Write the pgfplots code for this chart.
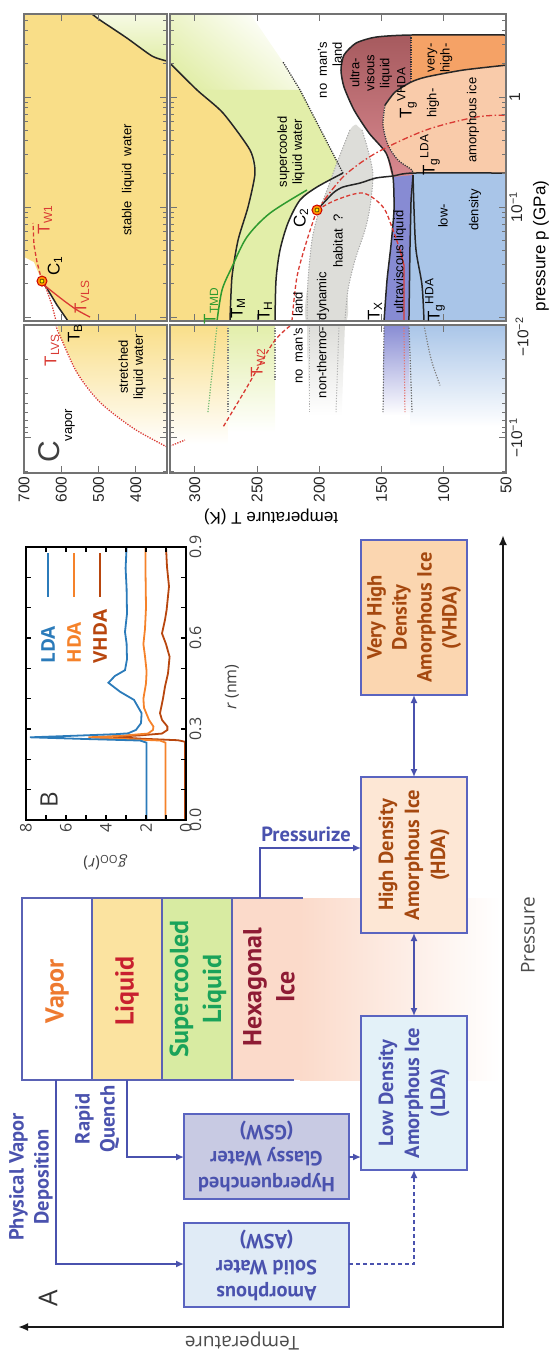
\documentclass[border=0pt]{standalone}
\usepackage{fontspec}
\setmainfont{Liberation Sans}
\newfontfamily\pts{PT Sans}
\newfontfamily\ops{Open Sans}
\usepackage{pgfplots}
\pgfplotsset{compat=1.18}
\usetikzlibrary{arrows.meta}

\definecolor{bandC}{HTML}{5A62B5}
\definecolor{liqC}{HTML}{FBE3A0}
\definecolor{supC}{HTML}{D8EBA2}
\definecolor{hexC}{HTML}{FBDACA}
\definecolor{vapT}{HTML}{EE7A30}
\definecolor{liqT}{HTML}{C8202F}
\definecolor{supT}{HTML}{1AA35A}
\definecolor{hexT}{HTML}{8E1B34}
\definecolor{blueA}{HTML}{4A52AE}
\definecolor{brownA}{HTML}{A5480F}
\definecolor{boxC}{HTML}{5A64C0}
\definecolor{gswC}{HTML}{C8CAE3}
\definecolor{aswC}{HTML}{E0EBF6}
\definecolor{ldaF}{HTML}{E3F1F8}
\definecolor{hdaF}{HTML}{FDE7D5}
\definecolor{vhdaF}{HTML}{FBD6B0}
\definecolor{ldaL}{HTML}{2B7BBA}
\definecolor{hdaL}{HTML}{F5822A}
\definecolor{vhdaL}{HTML}{B8460E}
\definecolor{frameC}{HTML}{737373}
\definecolor{yellC}{HTML}{F9DE88}
\definecolor{grnC}{HTML}{E2EEA9}
\definecolor{mauveD}{HTML}{A65A5E}
\definecolor{mauveL}{HTML}{D98990}
\definecolor{orgC}{HTML}{F5A266}
\definecolor{peachC}{HTML}{F9CBAA}
\definecolor{purpC}{HTML}{878BD3}
\definecolor{lblueC}{HTML}{A9C5E8}
\definecolor{greyC}{HTML}{DDDDD9}
\definecolor{redC}{HTML}{D93A33}
\definecolor{tmdC}{HTML}{2E9A2E}

\pgfplotsset{
  cax/.style={anchor=north west, scale only axis, axis on top, tick align=inside,
    x dir=reverse,
    axis line style={draw=frameC, line width=1.6pt},
    tick style={draw=frameC, line width=1pt},
    major tick length=7pt, minor tick length=4pt,
    tick label style={font=\fontsize{15.5}{15.5}\selectfont, text=black!85},
    xticklabel style={rotate=90, anchor=east},
    yticklabel style={rotate=90, anchor=north},
    yticklabel pos=right},
  blk/.style={black!85, line width=1.5pt},
  dotk/.style={black!80, line width=1.3pt, dash pattern=on 1.2pt off 1.2pt},
}
\newcommand{\lf}{\fontsize{13}{15}\selectfont}
\newcommand{\tf}{\fontsize{17}{17}\selectfont}

\begin{document}
\begin{tikzpicture}
\path[use as bounding box] (0pt,0pt) rectangle (552pt,-1354pt);

% ================= PANEL A =================
\begin{scope}[x=1pt,y=-1pt]
\fill[hexC] (232,898) rectangle (300,1080);
\shade[left color=hexC, right color=white] (300,898) rectangle (500,1080);
\fill[liqC] (92,898) rectangle (162,1080);
\fill[supC] (162,898) rectangle (232,1080);
\draw[bandC, line width=1.2pt] (303,898) -- (22,898) -- (22,1080) -- (294,1080);
\draw[bandC, line width=1.2pt] (92,898) -- (92,1080) (162,898) -- (162,1080) (232,898) -- (232,1080);

\node[rotate=90, text=vapT, font=\pts\bfseries\fontsize{26}{31}\selectfont] at (57,991) {Vapor};
\node[rotate=90, text=liqT, font=\pts\bfseries\fontsize{26}{31}\selectfont] at (127,991) {Liquid};
\node[rotate=90, align=center, text=supT, font=\pts\bfseries\fontsize{26}{33}\selectfont] at (198,989) {Supercooled\\Liquid};
\node[rotate=90, align=center, text=hexT, font=\pts\bfseries\fontsize{26}{33}\selectfont] at (269,987) {Hexagonal\\Ice};

% boxes
\draw[boxC, line width=1.2pt, fill=gswC] (184,1114) rectangle (349,1199);
\draw[boxC, line width=1.2pt, fill=aswC] (184,1223) rectangle (349,1307);
\draw[boxC, line width=1.2pt, fill=ldaF] (361,1016) rectangle (467,1170);
\draw[boxC, line width=1.2pt, fill=hdaF] (361,777) rectangle (467,933);
\draw[boxC, line width=1.2pt, fill=vhdaF] (361,540) rectangle (467,695);

\node[rotate=180, align=center, text=blueA, font=\pts\bfseries\fontsize{20.5}{26}\selectfont] at (266.5,1156.5) {Hyperquenched\\Glassy Water\\(GSW)};
\node[rotate=180, align=center, text=blueA, font=\pts\bfseries\fontsize{20.5}{26}\selectfont] at (266.5,1265) {Amorphous\\Solid Water\\(ASW)};
\node[rotate=90, align=center, text=blueA, font=\pts\bfseries\fontsize{20.5}{26}\selectfont] at (414,1093) {Low Density\\Amorphous Ice\\(LDA)};
\node[rotate=90, align=center, text=brownA, font=\pts\bfseries\fontsize{20.5}{26}\selectfont] at (414,855) {High Density\\Amorphous Ice\\(HDA)};
\node[rotate=90, align=center, text=brownA, font=\pts\bfseries\fontsize{20.5}{25}\selectfont] at (414,617.5) {Very High\\Density\\Amorphous Ice\\(VHDA)};

% arrows
\draw[blueA, line width=1.5pt, -{Latex[length=8pt,width=7pt]}] (56,1080) -- (56,1264) -- (184,1264);
\draw[blueA, line width=1.5pt, -{Latex[length=8pt,width=7pt]}] (127,1080) -- (127,1157) -- (184,1157);
\draw[blueA, line width=1.5pt, -{Latex[length=8pt,width=7pt]}] (260,898) -- (260,848) -- (361,848);
\draw[blueA, line width=1.5pt, -{Latex[length=8pt,width=7pt]}] (349,1157) -- (361,1157);
\draw[blueA, line width=1.5pt, dash pattern=on 4pt off 3pt, -{Latex[length=8pt,width=7pt]}] (349,1264) -- (414,1264) -- (414,1170);
\draw[blueA, line width=1.5pt, {Latex[length=8pt,width=7pt]}-{Latex[length=8pt,width=7pt]}] (414,933) -- (414,1016);
\draw[blueA, line width=1.5pt, {Latex[length=8pt,width=7pt]}-{Latex[length=8pt,width=7pt]}] (414,695) -- (414,777);

\node[rotate=90, align=center, text=blueA, font=\pts\bfseries\fontsize{20.5}{25}\selectfont] at (31,1177) {Physical Vapor\\Deposition};
\node[rotate=90, align=center, text=blueA, font=\pts\bfseries\fontsize{20.5}{25}\selectfont] at (97,1119) {Rapid\\Quench};
\node[text=blueA, font=\pts\bfseries\fontsize{20.5}{25}\selectfont] at (306,834) {Pressurize};

% T / p axes
\draw[black!90, line width=2pt, {Latex[length=10pt,width=8pt]}-{Latex[length=10pt,width=8pt]}] (18,1327) -- (503,1327) -- (503,535);
\node[rotate=180, text=black!70, font=\ops\fontsize{19}{19}\selectfont] at (242,1341) {Temperature};
\node[rotate=90, text=black!70, font=\ops\fontsize{19}{19}\selectfont] at (528,935) {Pressure};
\node[rotate=90, text=black!80, font=\ops\fontsize{26}{26}\selectfont] at (48,1298) {A};

% panel B legend and labels
\draw[ldaL, line width=2.2pt] (48,553) -- (48,597);
\draw[hdaL, line width=2.2pt] (74,553) -- (74,597);
\draw[vhdaL, line width=2.2pt] (100,553) -- (100,597);
\node[rotate=90, anchor=west, text=ldaL, font=\ops\bfseries\fontsize{19}{19}\selectfont] at (48,667) {LDA};
\node[rotate=90, anchor=west, text=hdaL, font=\ops\bfseries\fontsize{19}{19}\selectfont] at (74,667) {HDA};
\node[rotate=90, anchor=west, text=vhdaL, font=\ops\bfseries\fontsize{19}{19}\selectfont] at (100,667) {VHDA};
\node[rotate=90, text=black!80, font=\ops\fontsize{24}{24}\selectfont] at (49,800) {B};
\node[rotate=180, text=black!75, font=\ops\fontsize{16}{16}\selectfont] at (105,862) {\textit{g}\textsubscript{OO}(\textit{r})};
\node[rotate=90, text=black!75, font=\ops\fontsize{16}{16}\selectfont] at (232,687) {\textit{r} (nm)};
\end{scope}

% ================= PANEL B =================
\begin{axis}[at={(26pt,-547pt)}, anchor=north west, scale only axis, width=160pt, height=273pt,
  xmin=0, xmax=8, x dir=reverse, ymin=0, ymax=0.9,
  xtick={0,2,4,6,8}, xticklabels={0,2,4,6,8}, minor xtick={1,3,5,7},
  ytick={0,0.3,0.6,0.9}, yticklabels={0.0,0.3,0.6,0.9}, minor ytick={0.1,0.2,0.4,0.5,0.7,0.8},
  yticklabel pos=right, tick align=inside, major tick length=5pt, minor tick length=5pt,
  axis line style={line width=1.8pt}, tick style={black, line width=1.3pt},
  tick label style={font=\ops\fontsize{16}{16}\selectfont, text=black!75},
  xticklabel style={rotate=90, anchor=east}, yticklabel style={rotate=90, anchor=north},
  axis on top]
\addplot[vhdaL, line width=1.8pt] coordinates {(0.05,0) (0.05,0.258) (0.4,0.263) (2.2,0.268) (3.65,0.274) (2.3,0.279) (1.2,0.285) (0.93,0.297) (0.93,0.308) (1.2,0.33) (1.3,0.352) (1.15,0.40) (1.05,0.44) (0.9,0.483) (0.82,0.538) (1.0,0.58) (1.2,0.615) (1.05,0.66) (0.97,0.692) (0.85,0.77) (0.95,0.835) (1.0,0.9)};
\addplot[hdaL, line width=1.8pt] coordinates {(1.02,0) (1.02,0.255) (1.3,0.262) (3,0.267) (4.88,0.2726) (3.2,0.278) (1.9,0.285) (1.65,0.297) (1.63,0.308) (1.85,0.33) (2.1,0.37) (2.13,0.40) (2.0,0.45) (1.97,0.49) (2.05,0.54) (2.13,0.58) (2.05,0.63) (2.0,0.7) (2.02,0.8) (2.02,0.9)};
\addplot[ldaL, line width=1.8pt] coordinates {(1.97,0) (1.97,0.255) (2.3,0.262) (5,0.267) (7.8,0.2726) (5.5,0.278) (3.5,0.283) (2.9,0.2857) (2.5,0.297) (2.25,0.319) (2.22,0.352) (2.6,0.396) (3.3,0.423) (3.88,0.4525) (3.55,0.475) (3.05,0.494) (2.95,0.53) (2.97,0.582) (3.05,0.62) (2.95,0.68) (2.97,0.764) (3.02,0.83) (2.97,0.9)};
\end{axis}

% ================= PANEL C : Q1 (high T, p>0) =================
\begin{axis}[cax, at={(24pt,-14pt)}, width=143pt, height=307pt,
  xmin=316, xmax=700, ymin=-2.036, ymax=0.755,
  xtick={400,500,600,700}, xticklabels={},
  ytick={-2,-1,0}, yticklabels={},
  minor ytick={-1.699,-1.523,-1.398,-1.301,-1.222,-1.155,-1.097,-1.046,-0.699,-0.523,-0.398,-0.301,-0.222,-0.155,-0.097,-0.046,0.301,0.477,0.602,0.699}]
\addplot[draw=none, fill=yellC] coordinates {(702,0.76) (517.4,0.76) (495.9,0.700) (423.5,0.536) (356.3,0.373) (314,0.327) (314,-2.05) (581.9,-2.05) (611.4,-1.891) (635.6,-1.755) (651.7,-1.673) (673.2,-1.5) (702,-1.45)} -- cycle;
\addplot[draw=none, top color=grnC!30!white, bottom color=grnC] coordinates {(517.4,0.76) (314,0.76) (314,0.327) (356.3,0.373) (423.5,0.536) (495.9,0.700)} -- cycle;
\addplot[blk, smooth, tension=0.4] coordinates {(517.4,0.755) (495.9,0.700) (423.5,0.536) (356.3,0.373) (316,0.327)};
\addplot[blk] coordinates {(651.7,-1.673) (635.6,-1.755) (611.4,-1.891) (581.9,-2.036)};
\addplot[redC, line width=1.3pt, dash pattern=on 4pt off 2.5pt] coordinates {(651.7,-1.673) (665.1,-1.5) (673.2,-1.345) (675.8,-1.145)};
\addplot[redC, line width=1.3pt, smooth] coordinates {(651.7,-1.673) (645.6,-1.709) (595.3,-1.845) (557.7,-1.936) (522.8,-2.0)};
\addplot[redC, line width=1.3pt, dash pattern=on 1.3pt off 1.3pt] coordinates {(651.7,-1.673) (640.9,-1.736) (624.8,-1.891) (614.1,-2.036)};
\addplot[only marks, mark=*, mark size=5pt, mark options={fill=orange!85!yellow, draw=red!80!black, line width=1pt}] coordinates {(651.7,-1.673)};
\addplot[only marks, mark=*, mark size=2pt, mark options={fill=yellow, draw=none}] coordinates {(651.7,-1.673)};
\end{axis}

% ================= Q2 (high T, p<0) =================
\begin{axis}[cax, at={(24pt,-325pt)}, width=143pt, height=148pt,
  xmin=316, xmax=700, ymin=-2, ymax=-0.69, y dir=reverse,
  xtick={400,500,600,700}, xticklabels={400,500,600,700},
  ytick={-1}, yticklabels={},
  minor ytick={-1.699,-1.523,-1.398,-1.301,-1.222,-1.155,-1.097,-1.046,-0.699}]
\addplot[draw=none, top color=yellC, middle color=yellC!45!white, bottom color=white] coordinates {(611.4,-2.01) (314,-2.01) (314,-0.921) (326.8,-0.939) (407.3,-1.088) (495.9,-1.316) (557.7,-1.579) (603.3,-1.904)} -- cycle;
\addplot[redC, line width=1.3pt, dash pattern=on 1.3pt off 1.3pt, smooth] coordinates {(614.1,-2.0) (611.4,-1.965) (603.3,-1.904) (557.7,-1.579) (495.9,-1.316) (407.3,-1.088) (326.8,-0.939) (316,-0.921)};
\end{axis}

% ================= Q3 (low T, p>0) =================
\begin{axis}[cax, at={(170pt,-14pt)}, width=336pt, height=307pt,
  xmin=50, xmax=320, ymin=-2.036, ymax=0.755,
  xtick={50,100,150,200,250,300}, xticklabels={},
  ytick={-2,-1,0}, yticklabels={{},{10\textsuperscript{−1}},{1}},
  minor ytick={-1.699,-1.523,-1.398,-1.301,-1.222,-1.155,-1.097,-1.046,-0.699,-0.523,-0.398,-0.301,-0.222,-0.155,-0.097,-0.046,0.301,0.477,0.602,0.699}]
\addplot[draw=none, fill=yellC] coordinates {(322,0.313) (298.3,0.064) (277.4,-0.145) (255.7,-0.482) (251.7,-0.691) (257.3,-1.0) (265.3,-1.300) (270.2,-1.636) (271.8,-2.05) (322,-2.05)} -- cycle;
\addplot[draw=none, top color=white, bottom color=grnC, shading angle=-40] coordinates {(322,0.76) (255.7,0.76) (229.2,0.318) (215.5,0.064) (298.3,0.064) (322,0.313)} -- cycle;
\addplot[draw=none, fill=grnC] coordinates {(298.3,0.065) (215.5,0.065) (181.0,-0.691) (201.9,-0.818) (215.5,-0.936) (225.2,-1.145) (231.6,-1.391) (234.8,-1.664) (235.6,-2.05) (271.8,-2.05) (270.2,-1.636) (265.3,-1.300) (257.3,-1.0) (251.7,-0.691) (255.7,-0.482) (277.4,-0.145)} -- cycle;
% grey band
\addplot[draw=none, fill=greyC, smooth, tension=0.5] coordinates {(170.5,-0.25) (175.4,-0.300) (185.0,-0.573) (193.8,-0.845) (201.1,-1.073) (205.9,-1.300) (209.1,-1.664) (209.9,-2.05) (179.4,-2.05) (177.0,-1.755) (171.3,-1.482) (163.3,-1.209) (159.3,-1.0) (156.9,-0.709) (160.9,-0.482) (165.7,-0.300)} -- cycle;
% mauve ultraviscous HDL
\addplot[draw=none, top color=mauveD, bottom color=mauveL, smooth, tension=0.4] coordinates {(126.3,0.564) (154.5,0.545) (170.5,0.491) (180.2,0.382) (182.6,0.245) (180.2,0.091) (172.1,-0.118) (160.1,-0.327) (146.4,-0.509) (140.8,-0.727) (124.7,-0.709) (125.5,-0.664) (136.8,-0.573) (144.8,-0.436) (148.8,-0.255) (147.2,-0.073) (139.2,0.045) (126.3,0.136)} -- cycle;
\addplot[draw=none, fill=orgC] coordinates {(126.3,0.564) (48,0.564) (48,0.291) (84.6,0.245) (114.3,0.182) (126.3,0.136)} -- cycle;
\addplot[draw=none, fill=peachC] coordinates {(126.3,0.136) (114.3,0.182) (84.6,0.245) (48,0.291) (48,-0.691) (124.7,-0.691) (125.5,-0.664) (136.8,-0.573) (144.8,-0.436) (148.8,-0.255) (147.2,-0.073) (139.2,0.045)} -- cycle;
\addplot[draw=none, fill=purpC] coordinates {(140.8,-0.727) (140.0,-1.027) (142.4,-1.345) (145.6,-1.664) (148.0,-2.05) (128.0,-2.05) (127.2,-1.391) (126.3,-0.936) (124.7,-0.709)} -- cycle;
\addplot[draw=none, fill=lblueC] coordinates {(124.7,-0.691) (48,-0.691) (48,-2.05) (128.0,-2.05) (127.2,-1.391) (126.3,-0.936) (124.7,-0.709)} -- cycle;
% lines
\addplot[black!35, line width=1pt, dash pattern=on 1.2pt off 1.5pt, smooth] coordinates {(175.4,-0.300) (185.0,-0.573) (193.8,-0.845) (201.1,-1.073) (205.9,-1.300) (209.1,-1.664) (209.9,-2.036)};
\addplot[black!35, line width=1pt, dash pattern=on 1.2pt off 1.5pt, smooth] coordinates {(165.7,-0.300) (160.9,-0.482) (156.9,-0.709) (159.3,-1.0) (163.3,-1.209) (171.3,-1.482) (177.0,-1.755) (179.4,-2.036)};
\addplot[blk, smooth, tension=0.4] coordinates {(320.5,0.313) (298.3,0.064) (277.4,-0.145) (255.7,-0.482) (251.7,-0.691) (257.3,-1.0) (265.3,-1.300) (270.2,-1.636) (271.8,-2.036)};
\addplot[blk, smooth, tension=0.5] coordinates {(181.0,-0.691) (201.9,-0.818) (215.5,-0.936) (225.2,-1.145) (231.6,-1.391) (234.8,-1.664) (235.6,-2.036)};
\addplot[dotk] coordinates {(181.0,-0.691) (215.5,0.064) (229.2,0.318)};
\addplot[tmdC, line width=1.5pt, smooth] coordinates {(209.9,-0.845) (239.6,-1.055) (258.2,-1.273) (270.2,-1.545) (278.2,-1.755) (282.2,-2.036)};
\addplot[blk, smooth, tension=0.4] coordinates {(49,0.564) (126.3,0.564) (154.5,0.545) (170.5,0.491) (180.2,0.382) (182.6,0.245) (180.2,0.091) (172.1,-0.118) (160.1,-0.327) (146.4,-0.509) (140.8,-0.727) (140.0,-1.027) (142.4,-1.345) (145.6,-1.664) (148.0,-2.036)};
\addplot[blk, smooth, tension=0.4] coordinates {(49,0.291) (84.6,0.245) (114.3,0.182) (126.3,0.136) (139.2,0.045) (147.2,-0.073)};
\addplot[dotk] coordinates {(126.3,0.564) (126.3,0.136)};
\addplot[dotk, smooth] coordinates {(147.2,-0.073) (148.8,-0.255) (144.8,-0.436) (136.8,-0.573) (125.5,-0.664) (124.7,-0.709)};
\addplot[blk, smooth] coordinates {(124.7,-0.709) (123.9,-1.027) (122.3,-1.391) (117.5,-1.709) (115.9,-2.036)};
\addplot[blk] coordinates {(124.7,-0.709) (126.3,-0.936) (127.2,-1.391) (128.0,-2.036)};
\addplot[blk, smooth, tension=0.4] coordinates {(201.9,-1.027) (189.0,-0.873) (181.0,-0.818) (167.3,-0.782) (154.5,-0.736) (140.8,-0.718) (124.7,-0.691) (49,-0.691)};
\addplot[redC, line width=1.3pt, dash pattern=on 4pt off 2.5pt, smooth] coordinates {(201.9,-1.027) (186.6,-0.936) (164.9,-0.873) (148.8,-1.0) (140.8,-1.209) (135.2,-1.391)};
\addplot[redC, line width=1.3pt] coordinates {(135.2,-1.391) (132.0,-1.527) (132.0,-2.036)};
\addplot[redC, line width=1.3pt, dash pattern=on 6pt off 2.5pt on 1.5pt off 2.5pt, smooth] coordinates {(201.9,-1.027) (181.0,-0.727) (154.5,-0.509) (114.3,-0.300) (74.1,-0.182) (49,-0.164)};
\addplot[redC, line width=1.3pt, dash pattern=on 4pt off 2.5pt, smooth] coordinates {(201.9,-1.027) (209.9,-1.300) (218.0,-1.636) (222.0,-2.036)};
\addplot[only marks, mark=*, mark size=5pt, mark options={fill=orange!85!yellow, draw=red!80!black, line width=1pt}] coordinates {(201.9,-1.027)};
\addplot[only marks, mark=*, mark size=2pt, mark options={fill=yellow, draw=none}] coordinates {(201.9,-1.027)};
\end{axis}

% ================= Q4 (low T, p<0) =================
\begin{axis}[cax, at={(170pt,-325pt)}, width=336pt, height=148pt,
  xmin=50, xmax=320, ymin=-2, ymax=-0.69, y dir=reverse,
  xtick={50,100,150,200,250,300}, xticklabels={50,100,150,200,250,300},
  ytick={-1}, yticklabels={{−10\textsuperscript{−1}}},
  minor ytick={-1.699,-1.523,-1.398,-1.301,-1.222,-1.155,-1.097,-1.046,-0.699}]
\addplot[draw=none, top color=yellC, middle color=yellC!45!white, bottom color=white] coordinates {(322,-2.01) (273.4,-2.01) (273.4,-0.95) (322,-0.95)} -- cycle;
\addplot[draw=none, top color=grnC, middle color=grnC!45!white, bottom color=white] coordinates {(273.4,-2.01) (235.6,-2.01) (235.6,-1.05) (273.4,-1.05)} -- cycle;
\addplot[draw=none, top color=greyC, bottom color=white] coordinates {(209.9,-2.01) (179.4,-2.01) (182,-1.2) (208.3,-1.2)} -- cycle;
\addplot[draw=none, top color=purpC, middle color=purpC!50!white, bottom color=white] coordinates {(148,-2.01) (128,-2.01) (127,-1.2) (148.8,-1.2)} -- cycle;
\addplot[draw=none, top color=lblueC, middle color=lblueC!60!white, bottom color=white] coordinates {(128,-2.01) (48,-2.01) (48,-1.1) (127,-1.1)} -- cycle;
\addplot[tmdC!70!white, line width=1.2pt, dash pattern=on 1.2pt off 1.5pt] coordinates {(282.2,-2.0) (289.5,-1.228)};
\addplot[black!50, line width=1.2pt, dash pattern=on 1.2pt off 1.5pt] coordinates {(273.4,-2.0) (273.4,-1.228)};
\addplot[black!50, line width=1.2pt, dash pattern=on 1.2pt off 1.5pt] coordinates {(235.6,-2.0) (235.6,-1.5)};
\addplot[black!30, line width=1pt, dash pattern=on 1.2pt off 1.5pt] coordinates {(208.3,-2.0) (208.3,-1.228)};
\addplot[black!30, line width=1pt, dash pattern=on 1.2pt off 1.5pt] coordinates {(184.2,-2.0) (186.6,-1.228)};
\addplot[black!60, line width=1.2pt, dash pattern=on 1.2pt off 1.5pt] coordinates {(148,-2.0) (148.8,-1.228)};
\addplot[redC!70!white, line width=1.2pt, dash pattern=on 1.2pt off 1.5pt] coordinates {(132,-2.0) (131.2,-1.228)};
\addplot[black!60, line width=1.2pt, dash pattern=on 1.2pt off 1.5pt] coordinates {(128,-2.0) (125.5,-1.228)};
\addplot[black!50, line width=1.2pt, dash pattern=on 1.2pt off 1.5pt, smooth] coordinates {(115.9,-2.0) (110.3,-1.702) (103.0,-1.465)};
\addplot[redC, line width=1.3pt, dash pattern=on 4pt off 2.5pt, smooth] coordinates {(223.6,-1.991) (237.2,-1.842) (259.7,-1.421) (277.4,-1.096)};
\addplot[redC, line width=1.3pt, dash pattern=on 1.3pt off 1.3pt] coordinates {(320,-0.93) (317.6,-0.939) (308.0,-0.982)};
\end{axis}

% ================= PANEL C labels =================
\begin{scope}[x=1pt,y=-1pt]
\node[rotate=90, font=\lf] at (128,180) {stable\ \ liquid\ \ water};
\node[rotate=90, align=center, font=\lf] at (291,152) {supercooled\\liquid water};
\node[rotate=90, align=right, font=\lf] at (330,70) {no\ \ man's\\land};
\node[rotate=90, align=center, font=\lf] at (371,73) {ultra-\\visous\\liquid};
\node[rotate=90, font=\tf] at (407,93) {T\textsubscript{g}\textsuperscript{VHDA}};
\node[rotate=90, align=center, font=\lf] at (440,58) {very-\\high-};
\node[rotate=90, font=\lf] at (433,103) {high-};
\node[rotate=90, font=\lf] at (473,120) {amorphous ice};
\node[rotate=90, font=\tf] at (430,155) {T\textsubscript{g}\textsuperscript{LDA}};
\node[rotate=90, font=\lf] at (443,216) {low-};
\node[rotate=90, font=\lf] at (475,210) {density};
\node[rotate=90, font=\lf] at (400,262) {ultraviscous\ liquid};
\node[rotate=90, font=\tf] at (375,311) {T\textsubscript{X}};
\node[rotate=90, font=\tf] at (435,300) {T\textsubscript{g}\textsuperscript{HDA}};
\node[rotate=90, font=\lf] at (298,338) {no\ \ man's\ \ \ land};
\node[rotate=90, font=\lf] at (323,335) {non-thermo-\ \ dynamic};
\node[rotate=90, font=\lf] at (338,241) {habitat\ \ ?};
\node[rotate=90, font=\tf] at (301,218) {C\textsubscript{2}};
\node[rotate=90, font=\tf, text=tmdC] at (211,306) {T\textsubscript{TMD}};
\node[rotate=90, font=\tf] at (238,308) {T\textsubscript{M}};
\node[rotate=90, font=\tf] at (265,311) {T\textsubscript{H}};
\node[rotate=90, font=\tf, text=redC] at (258,363) {T\textsubscript{W2}};
\node[rotate=90, font=\tf, text=redC] at (45,220) {T\textsubscript{W1}};
\node[rotate=90, font=\tf] at (55,266) {C\textsubscript{1}};
\node[rotate=90, font=\tf, text=redC] at (82,297) {T\textsubscript{VLS}};
\node[rotate=90, font=\tf] at (75,333) {T\textsubscript{B}};
\node[rotate=90, font=\tf, text=redC] at (52,350) {T\textsubscript{LVS}};
\node[rotate=90, align=center, font=\lf] at (132,367) {stretched\\liquid water};
\node[rotate=90, font=\lf] at (70,425) {vapor};
\node[rotate=90, text=black!75, font=\fontsize{30}{30}\selectfont] at (49,452) {C};
\node[rotate=90, font=\fontsize{17}{17}\selectfont] at (541,246) {pressure p (GPa)};
\node[rotate=180, font=\fontsize{17}{17}\selectfont] at (271,517) {temperature T (K)};
\node[rotate=90, text=black!85, font=\fontsize{15.5}{15.5}\selectfont] at (522,337) {−10\textsuperscript{−2}};
\end{scope}
\end{tikzpicture}
\end{document}
